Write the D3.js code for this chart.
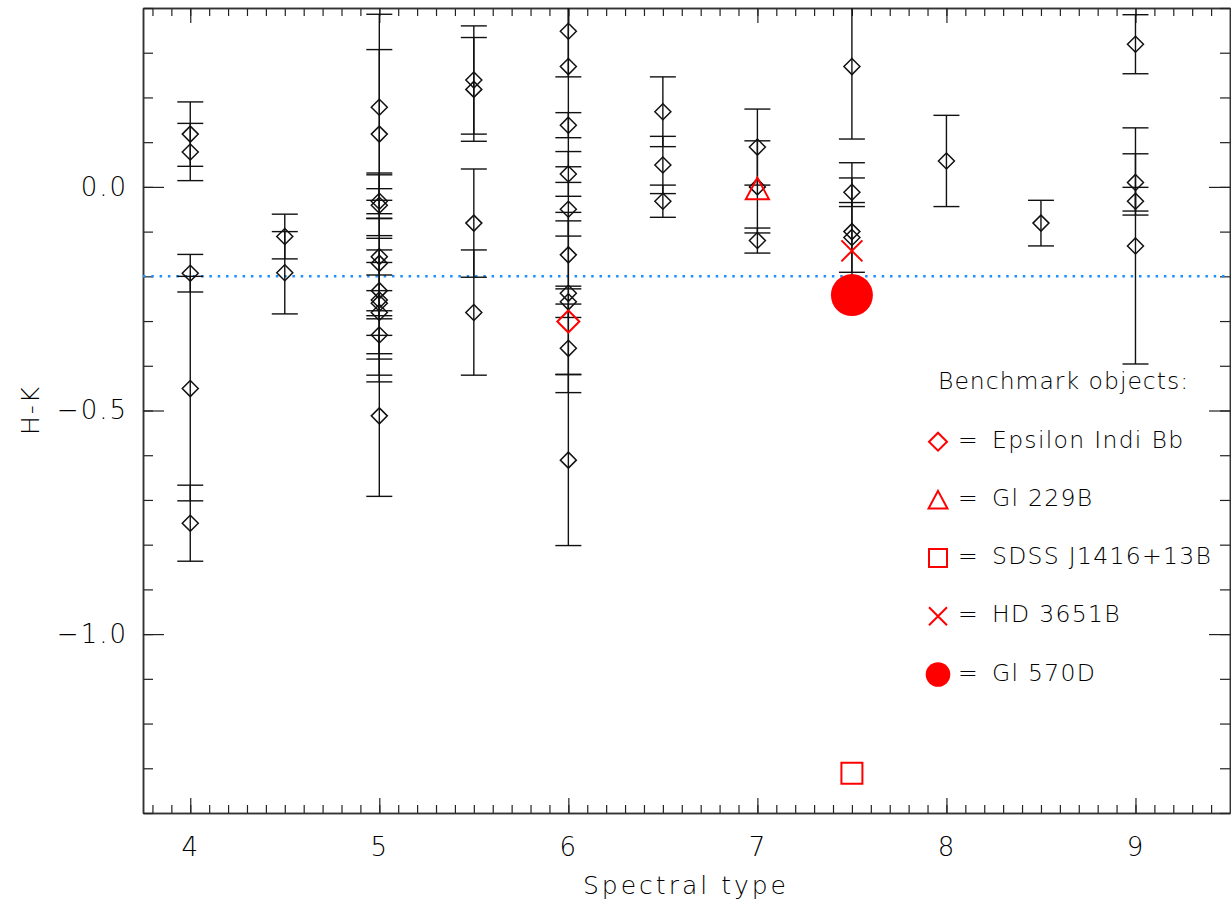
<!DOCTYPE html>
<html lang="en">
<head>
<meta charset="UTF-8">
<title>H-K vs Spectral type</title>
<script src="https://d3js.org/d3.v7.min.js"></script>
<style>
    body { margin: 0; background: #fff; }
    svg text { font-family: "DejaVu Sans", sans-serif; font-weight: 200; fill: #000; }
</style>
</head>
<body>
<svg id="chart" width="1231" height="900"></svg>
<script>
// field objects: spectral type, H-K colour and its error
const spt = [4, 4, 4, 4, 4,
             4.5, 4.5,
             5, 5, 5, 5, 5, 5, 5, 5, 5, 5, 5, 5,
             5.5, 5.5, 5.5, 5.5,
             6, 6, 6, 6, 6, 6, 6, 6, 6, 6,
             6.5, 6.5, 6.5,
             7, 7, 7,
             7.5, 7.5, 7.5, 7.5,
             8,
             8.5,
             9, 9, 9, 9];
const hk = [0.118, 0.078, -0.193, -0.451, -0.752,
            -0.111, -0.192,
            0.178, 0.118, -0.032, -0.041, -0.156, -0.171, -0.232, -0.253, -0.260, -0.281, -0.331, -0.512,
            0.239, 0.218, -0.081, -0.281,
            0.348, 0.269, 0.138, 0.029, -0.050, -0.152, -0.238, -0.257, -0.361, -0.611,
            0.168, 0.049, -0.032,
            0.089, 0.000, -0.120,
            0.269, -0.012, -0.100, -0.113,
            0.058,
            -0.081,
            0.319, 0.010, -0.032, -0.132];
const hkErr = [0.072, 0.064, 0.042, 0.251, 0.085,
               0.050, 0.092,
               0.208, 0.189, 0.028, 0.068, 0.041, 0.202, 0.063, 0.183, 0.028, 0.140, 0.054, 0.180,
               0.121, 0.116, 0.121, 0.140,
               0.102, 0.224, 0.028, 0.050, 0.060, 0.076, 0.181, 0.035, 0.099, 0.191,
               0.078, 0.064, 0.036,
               0.085, 0.103, 0.028,
               0.162, 0.032, 0.154, 0.078,
               0.102,
               0.051,
               0.066, 0.064, 0.031, 0.264];

// benchmark objects
const benchNames = ["Epsilon Indi Bb", "Gl 229B", "SDSS J1416+13B", "HD 3651B", "Gl 570D"];
const benchSpt = [6, 7, 7.5, 7.5, 7.5];
const benchHK = [-0.301, -0.004, -1.311, -0.143, -0.242];
const benchShapes = ["diamond", "triangle", "square", "cross", "circle"];

const xMajor = [4, 5, 6, 7, 8, 9];
const yMajor = [0.0, -0.5, -1.0];
const refLine = -0.2;

const svg = d3.select("#chart");
const x = d3.scaleLinear().domain([3.75, 9.5]).range([143, 1230]);
const y = d3.scaleLinear().domain([-1.4, 0.4]).range([813, 8]);
const xMinor = d3.range(38, 95).map(d => d / 10);
const yMinor = d3.range(-14, 5).map(d => d / 10);

svg.append("defs").append("clipPath").attr("id", "plot")
    .append("rect").attr("x", 143).attr("y", 8).attr("width", 1087).attr("height", 805);

// axes, ticks pointing inward on all four sides
function styleAxis(g) {
    g.selectAll(".domain").attr("stroke", "#333").attr("stroke-width", 1.5);
    g.selectAll(".tick line").attr("stroke", "#222").attr("stroke-width", 1.2);
    g.selectAll("text").attr("font-size", 26).attr("letter-spacing", 2).attr("fill", "#000");
}
svg.append("g").attr("transform", "translate(0,813)")
    .call(d3.axisBottom(x).tickValues(xMinor).tickSizeInner(-8).tickSizeOuter(0).tickFormat(""))
    .call(styleAxis);
svg.append("g").attr("transform", "translate(0,813)")
    .call(d3.axisBottom(x).tickValues(xMajor).tickSizeInner(-15).tickSizeOuter(0).tickPadding(25).tickFormat(d3.format("d")))
    .call(styleAxis);
svg.append("g").attr("transform", "translate(0,8)")
    .call(d3.axisTop(x).tickValues(xMinor).tickSizeInner(-8).tickSizeOuter(0).tickFormat(""))
    .call(styleAxis);
svg.append("g").attr("transform", "translate(0,8)")
    .call(d3.axisTop(x).tickValues(xMajor).tickSizeInner(-15).tickSizeOuter(0).tickFormat(""))
    .call(styleAxis);
svg.append("g").attr("transform", "translate(143,0)")
    .call(d3.axisLeft(y).tickValues(yMinor).tickSizeInner(-10).tickSizeOuter(0).tickFormat(""))
    .call(styleAxis);
svg.append("g").attr("transform", "translate(143,0)")
    .call(d3.axisLeft(y).tickValues(yMajor).tickSizeInner(-21).tickSizeOuter(0).tickPadding(15).tickFormat(d3.format(".1f")))
    .call(styleAxis);
svg.append("g").attr("transform", "translate(1230,0)")
    .call(d3.axisRight(y).tickValues(yMinor).tickSizeInner(-10).tickSizeOuter(0).tickFormat(""))
    .call(styleAxis);
svg.append("g").attr("transform", "translate(1230,0)")
    .call(d3.axisRight(y).tickValues(yMajor).tickSizeInner(-21).tickSizeOuter(0).tickFormat(""))
    .call(styleAxis);

// axis titles
svg.append("text").attr("x", 686).attr("y", 894).attr("text-anchor", "middle")
    .attr("font-size", 25).attr("letter-spacing", 3).text("Spectral type");
svg.append("text").attr("transform", "translate(39,410) rotate(-90)").attr("text-anchor", "middle")
    .attr("font-size", 25).attr("letter-spacing", 2).text("H-K");

// reference line
svg.append("line").attr("x1", x(3.75)).attr("x2", x(9.5)).attr("y1", y(refLine)).attr("y2", y(refLine))
    .attr("stroke", "#1e8fff").attr("stroke-width", 2.5).attr("stroke-dasharray", "2.5,5.8");

const plot = svg.append("g").attr("clip-path", "url(#plot)");
const pts = spt.map((s, i) => ({ s, v: hk[i], e: hkErr[i] }));

// error bars
const cap = 13;
const bars = plot.selectAll("g.bar").data(pts).enter().append("g").attr("stroke", "#111").attr("stroke-width", 1.4);
bars.append("line").attr("x1", d => x(d.s)).attr("x2", d => x(d.s))
    .attr("y1", d => y(d.v + d.e)).attr("y2", d => y(d.v - d.e));
bars.append("line").attr("x1", d => x(d.s) - cap).attr("x2", d => x(d.s) + cap)
    .attr("y1", d => y(d.v + d.e)).attr("y2", d => y(d.v + d.e));
bars.append("line").attr("x1", d => x(d.s) - cap).attr("x2", d => x(d.s) + cap)
    .attr("y1", d => y(d.v - d.e)).attr("y2", d => y(d.v - d.e));

// marker shapes
function shapePath(type, r) {
    if (type === "diamond") return `M0,${-r}L${r},0L0,${r}L${-r},0Z`;
    if (type === "triangle") return `M0,${-r}L${r * 1.05},${r * 0.95}L${-r * 1.05},${r * 0.95}Z`;
    if (type === "square") return `M${-r},${-r}H${r}V${r}H${-r}Z`;
    if (type === "cross") return `M${-r},${-r}L${r},${r}M${r},${-r}L${-r},${r}`;
    return "";
}

plot.selectAll("path.dia").data(pts).enter().append("path")
    .attr("transform", d => `translate(${x(d.s)},${y(d.v)})`)
    .attr("d", shapePath("diamond", 8)).attr("fill", "none").attr("stroke", "#111").attr("stroke-width", 1.5);

// benchmark markers
const bench = benchNames.map((n, i) => ({ n, s: benchSpt[i], v: benchHK[i], shape: benchShapes[i] }));
const bigSize = { diamond: 11, triangle: 11, square: 10.5, cross: 10.5, circle: 21 };
const smallSize = { diamond: 9, triangle: 9, square: 9, cross: 9, circle: 12.3 };
function drawMarker(g, shape, r) {
    if (shape === "circle") {
        g.append("circle").attr("r", r).attr("fill", "#ff0000");
    } else {
        g.append("path").attr("d", shapePath(shape, r)).attr("fill", "none")
            .attr("stroke", "#ff0000").attr("stroke-width", 2);
    }
}
bench.forEach(b => {
    const g = plot.append("g").attr("transform", `translate(${x(b.s)},${y(b.v)})`);
    drawMarker(g, b.shape, bigSize[b.shape]);
});

// legend
const leg = svg.append("g");
leg.append("text").attr("x", 938).attr("y", 389).attr("font-size", 23.5).attr("letter-spacing", 1).text("Benchmark objects:");
bench.forEach((b, i) => {
    const cy = 441.7 + i * 58.2;
    const g = leg.append("g").attr("transform", `translate(938,${cy})`);
    drawMarker(g, b.shape, smallSize[b.shape]);
    leg.append("text").attr("x", 958).attr("y", cy + 6).attr("font-size", 23.5).text("=");
    leg.append("text").attr("x", 992).attr("y", cy + 6).attr("font-size", 23.5).attr("letter-spacing", 1.3).text(b.n);
});
</script>
</body>
</html>
